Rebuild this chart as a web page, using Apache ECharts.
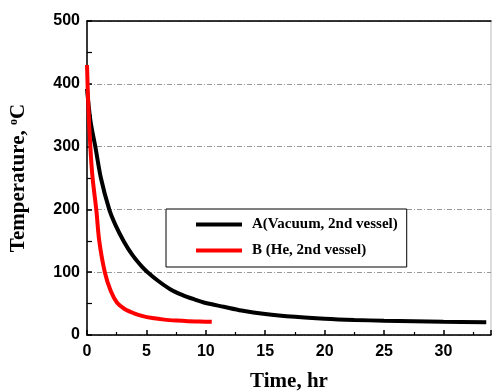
<!DOCTYPE html>
<html><head><meta charset="utf-8">
<script src="https://cdn.jsdelivr.net/npm/echarts@6/dist/echarts.min.js"></script>
<style>html,body{margin:0;padding:0;background:#fff}#c{width:492px;height:392px}</style>
</head><body><div id="c"></div>
<script>
const seriesNames = ['A(Vacuum, 2nd vessel)', 'B (He, 2nd vessel)'];
const timeA = [0, 0.3, 0.7, 1.17, 1.87, 2.4, 3.1, 3.8, 4.66, 5.1, 6.0, 7.0, 8.0, 9.0, 10.0, 11.5, 13, 15, 17.5, 20, 22.5, 25, 27.5, 30, 33.6];
const tempA = [392, 340, 300, 250, 200, 175, 149, 128, 108, 100, 86, 73, 64, 57, 51, 45, 39, 33.5, 29, 26, 24, 22.7, 21.8, 21, 20.5];
const timeB = [0, 0.1, 0.28, 0.47, 0.78, 1.03, 1.5, 2.0, 2.55, 3.2, 3.9, 4.7, 5.5, 6.5, 7.5, 8.5, 9.5, 10.5];
const tempB = [430, 370, 300, 250, 200, 150, 100, 70, 51, 41, 35, 30, 27, 24.5, 23, 22, 21.5, 21];
const xTicks = [0, 5, 10, 15, 20, 25, 30];
const yTicks = [0, 100, 200, 300, 400, 500];

const chart = echarts.init(document.getElementById('c'), null, {renderer: 'canvas'});
const tickFont = {fontFamily: 'Liberation Sans, Arial, sans-serif', fontWeight: 'bold', fontSize: 16, color: '#000'};
const nameFont = {fontFamily: 'Liberation Serif, Times New Roman, serif', fontWeight: 'bold', fontSize: 21, color: '#000'};
chart.setOption({
  animation: false,
  grid: {left: 87, right: 1, top: 21, bottom: 57, show: true, borderColor: '#bbb', borderWidth: 1,
         containLabel: false, outerBoundsMode: 'none'},
  legend: {
    orient: 'vertical', left: 166, top: 209,
    padding: [8, 9, 9, 30], itemGap: 11,
    itemWidth: 46, itemHeight: 4, icon: 'rect',
    borderColor: '#000', borderWidth: 1, backgroundColor: '#fff',
    textStyle: {fontFamily: 'Liberation Serif, Times New Roman, serif', fontWeight: 'bold', fontSize: 15, color: '#000', padding: [0, 0, 0, 5]},
    data: seriesNames
  },
  xAxis: [{
    type: 'value', min: 0, max: 34, interval: 5,
    name: 'Time, hr', nameLocation: 'middle', nameGap: 36, nameTextStyle: nameFont,
    axisLine: {show: true, lineStyle: {color: '#000', width: 1.5}},
    axisTick: {show: true, inside: true, length: 5, lineStyle: {color: '#000', width: 1.5}},
    minorTick: {show: true, splitNumber: 2, length: 3, lineStyle: {color: '#000', width: 1.2}},
    axisLabel: Object.assign({margin: 9, formatter: v => (xTicks.indexOf(v) >= 0 ? String(v) : '')}, tickFont),
    splitLine: {show: false}
  }, {
    type: 'value', position: 'top', min: 0, max: 34,
    axisLine: {show: true, onZero: false, lineStyle: {color: '#000', width: 1.5}},
    axisTick: {show: false}, axisLabel: {show: false}, splitLine: {show: false}
  }],
  yAxis: {
    type: 'value', min: 0, max: 500, interval: 100,
    name: '{n|Temperature, }{s|o}{n|C}', nameLocation: 'middle', nameGap: 58,
    nameTextStyle: Object.assign({rich: {
      n: nameFont,
      s: {fontFamily: 'Liberation Serif, serif', fontWeight: 'bold', fontSize: 12, color: '#000', verticalAlign: 'top', padding: [0, 0, 9, 0]}
    }}, nameFont),
    axisLine: {show: true, lineStyle: {color: '#000', width: 1.5}},
    axisTick: {show: true, inside: true, length: 5, lineStyle: {color: '#000', width: 1.5}},
    minorTick: {show: true, splitNumber: 2, length: 5, lineStyle: {color: '#000', width: 1.2}},
    axisLabel: Object.assign({margin: 7, formatter: v => (yTicks.indexOf(v) >= 0 ? String(v) : '')}, tickFont),
    splitLine: {show: true, lineStyle: {color: '#999', width: 1, type: [5, 2, 1, 2]}}
  },
  series: [
    {name: seriesNames[0], type: 'line', smooth: 0.3, symbol: 'none', color: '#000',
     lineStyle: {width: 4, color: '#000'}, data: timeA.map((t, i) => [t, tempA[i]]), z: 3},
    {name: seriesNames[1], type: 'line', smooth: 0.3, symbol: 'none', color: '#f00',
     lineStyle: {width: 4, color: '#f00'}, data: timeB.map((t, i) => [t, tempB[i]]), z: 4}
  ]
});
</script></body></html>
